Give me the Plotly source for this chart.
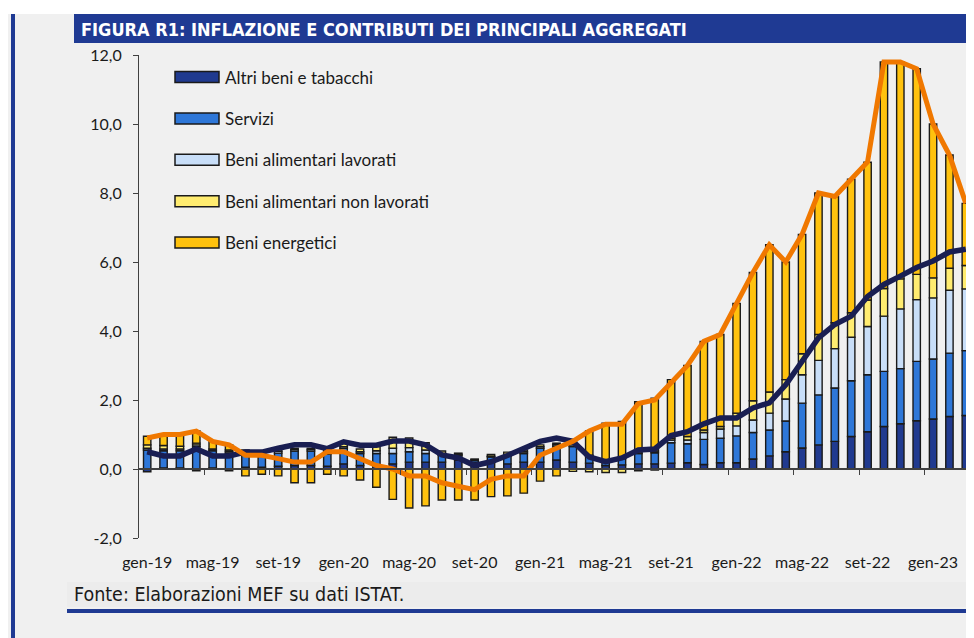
import plotly.graph_objects as go

# ---------------- data ----------------
months = ["gen-19","feb-19","mar-19","apr-19","mag-19","giu-19","lug-19","ago-19","set-19","ott-19","nov-19","dic-19",
          "gen-20","feb-20","mar-20","apr-20","mag-20","giu-20","lug-20","ago-20","set-20","ott-20","nov-20","dic-20",
          "gen-21","feb-21","mar-21","apr-21","mag-21","giu-21","lug-21","ago-21","set-21","ott-21","nov-21","dic-21",
          "gen-22","feb-22","mar-22","apr-22","mag-22","giu-22","lug-22","ago-22","set-22","ott-22","nov-22","dic-22",
          "gen-23","feb-23","mar-23"]

altri_beni = [-0.08, 0.03, 0.03, -0.05, 0.03, -0.05, 0.05, 0.05, 0.08, 0.10, 0.10, 0.08,
              0.15, 0.10, 0.10, 0.15, 0.20, 0.20, 0.20, 0.25, 0.20, 0.20, 0.15, 0.20,
              0.20, 0.26, 0.20, 0.17, 0.10, 0.12, 0.15, 0.15, 0.17, 0.18, 0.13, 0.18,
              0.18, 0.29, 0.38, 0.50, 0.61, 0.70, 0.80, 0.94, 1.08, 1.23, 1.31, 1.40,
              1.45, 1.52, 1.55]
servizi = [0.55, 0.50, 0.50, 0.65, 0.50, 0.45, 0.40, 0.38, 0.38, 0.42, 0.42, 0.35,
           0.45, 0.35, 0.35, 0.30, 0.30, 0.25, 0.20, 0.15, 0.05, 0.15, 0.22, 0.25,
           0.40, 0.40, 0.45, 0.20, 0.12, 0.18, 0.30, 0.32, 0.59, 0.55, 0.73, 0.71,
           0.78, 0.77, 0.75, 0.89, 1.30, 1.45, 1.55, 1.62, 1.65, 1.60, 1.60, 1.72,
           1.74, 1.84, 1.88]
alim_lavorati = [0.05, 0.05, 0.05, 0.05, 0.05, 0.05, 0.05, 0.05, 0.05, 0.05, 0.05, 0.05,
                 0.05, 0.05, 0.08, 0.15, 0.12, 0.10, 0.05, 0.03, 0.02, 0.02, 0.05, 0.05,
                 0.05, 0.05, 0.05, 0.03, 0.03, 0.03, 0.05, 0.05, 0.08, 0.11, 0.20, 0.27,
                 0.29, 0.36, 0.49, 0.64, 0.82, 1.00, 1.14, 1.26, 1.40, 1.60, 1.73, 1.79,
                 1.77, 1.82, 1.79]
alim_non_lavorati = [0.10, 0.10, 0.08, 0.05, 0.00, 0.05, 0.05, 0.05, 0.05, 0.03, 0.03, 0.10,
                     0.10, 0.08, 0.12, 0.32, 0.28, 0.21, 0.07, 0.03, 0.02, 0.05, 0.07, 0.05,
                     0.05, 0.04, -0.07, -0.08, -0.10, -0.10, -0.05, -0.03, 0.05, 0.10, 0.07, 0.07,
                     0.37, 0.56, 0.61, 0.56, 0.61, 0.75, 0.75, 0.71, 0.77, 0.80, 0.87, 0.73,
                     0.58, 0.64, 0.68]
energetici = [0.25, 0.30, 0.35, 0.35, 0.22, 0.15, -0.20, -0.15, -0.20, -0.40, -0.40, -0.15,
              -0.20, -0.32, -0.53, -0.88, -1.13, -1.07, -0.90, -0.90, -0.90, -0.80, -0.78, -0.70,
              -0.35, -0.20, 0.14, 0.70, 1.08, 1.05, 1.45, 1.53, 1.70, 2.06, 2.57, 2.67,
              3.18, 3.72, 4.27, 3.41, 3.46, 4.10, 3.66, 3.87, 3.99, 6.57, 6.29, 5.96,
              4.46, 3.28, 1.80]

inflazione = [0.9, 1.0, 1.0, 1.1, 0.8, 0.7, 0.4, 0.4, 0.3, 0.2, 0.2, 0.5,
              0.5, 0.3, 0.1, 0.0, -0.2, -0.2, -0.4, -0.5, -0.6, -0.3, -0.2, -0.2,
              0.4, 0.6, 0.8, 1.1, 1.3, 1.3, 1.9, 2.0, 2.5, 3.0, 3.7, 3.9,
              4.8, 5.7, 6.5, 6.0, 6.8, 8.0, 7.9, 8.4, 8.9, 11.8, 11.8, 11.6,
              10.0, 9.1, 7.7]
inflazione_fondo = [0.50, 0.38, 0.38, 0.58, 0.38, 0.38, 0.49, 0.49, 0.60, 0.70, 0.70, 0.59,
                    0.79, 0.69, 0.69, 0.81, 0.81, 0.70, 0.41, 0.32, 0.10, 0.21, 0.39, 0.58,
                    0.80, 0.90, 0.80, 0.35, 0.21, 0.32, 0.55, 0.58, 0.97, 1.08, 1.31, 1.48,
                    1.48, 1.77, 1.92, 2.44, 3.12, 3.80, 4.19, 4.43, 5.00, 5.35, 5.59, 5.84,
                    6.03, 6.29, 6.37]

series_names = ["Altri beni e tabacchi", "Servizi", "Beni alimentari lavorati",
                "Beni alimentari non lavorati", "Beni energetici"]
series_values = [altri_beni, servizi, alim_lavorati, alim_non_lavorati, energetici]
series_colors = ["#203a8f", "#2e77d8", "#c8def8", "#ffec70", "#ffc20e"]

y_ticks = [-2, 0, 2, 4, 6, 8, 10, 12]
y_ticktext = ["-2,0", "0,0", "2,0", "4,0", "6,0", "8,0", "10,0", "12,0"]
label_step = 4

title_text = "FIGURA R1: INFLAZIONE E CONTRIBUTI DEI PRINCIPALI AGGREGATI"
source_text = "Fonte: Elaborazioni MEF su dati ISTAT."

# ---------------- layout geometry ----------------
OFF = 8                      # page body margin offset
W, H = 974 - OFF, 638 - OFF  # figure size
L, R, T, B = 139 - OFF, 0, 55 - OFF, 100
Y_MIN, Y_MAX = -2, 12
BLUE = "#1f3a93"
BG = "#f0f0f0"
AXIS = "#404040"
NARROW = "DejaVu Sans Condensed, Liberation Sans Narrow, Arial Narrow, sans-serif"
TEXT = "#1a1a1a"

def px(x):
    """screen x (px) -> paper fraction"""
    return (x - OFF - L) / (W - L - R)

def py(y):
    """screen y (px) -> paper fraction"""
    return (H - B - (y - OFF)) / (H - T - B)

idx = list(range(len(months)))

fig = go.Figure()
for name, vals, col in zip(series_names, series_values, series_colors):
    fig.add_trace(go.Bar(x=idx, y=vals, name=name, marker=dict(color=col, line=dict(color=TEXT, width=1.4)),
                         showlegend=False, xaxis="x", yaxis="y"))

fig.add_trace(go.Scatter(x=idx, y=inflazione_fondo, mode="lines", line=dict(color="#191e52", width=5.5),
                         showlegend=False, xaxis="x2", yaxis="y"))
fig.add_trace(go.Scatter(x=idx, y=inflazione, mode="lines", line=dict(color="#f07800", width=5),
                         showlegend=False, xaxis="x2", yaxis="y"))

xr = [-0.5, len(months) - 0.5]
fig.update_layout(
    width=W, height=H,
    margin=dict(l=L, r=R, t=T, b=B, pad=0),
    paper_bgcolor=BG, plot_bgcolor=BG,
    barmode="relative", bargap=0.55,
    separators=",.",
    font=dict(family="Lato", size=16, color=TEXT),
    xaxis=dict(range=xr, tickmode="array", tickvals=idx[::label_step], ticktext=months[::label_step],
               ticks="", showline=False, showgrid=False, zeroline=False, ticklabelstandoff=13,
               tickfont=dict(family="Lato", size=16, color=TEXT)),
    xaxis2=dict(range=xr, overlaying="x", anchor="free", position=(0 - Y_MIN) / (Y_MAX - Y_MIN),
                side="bottom", showline=True, linecolor=AXIS, linewidth=1.5,
                tickmode="array", tickvals=[i - 0.5 for i in idx[label_step::label_step]],
                ticks="outside", ticklen=5, tickcolor=AXIS, tickwidth=1,
                showticklabels=False, showgrid=False, zeroline=False),
    yaxis=dict(range=[Y_MIN, Y_MAX], tickmode="array", tickvals=y_ticks, ticktext=y_ticktext,
               showline=True, linecolor=AXIS, linewidth=1.2, ticks="outside", ticklen=5, tickcolor=AXIS,
               showgrid=False, zeroline=False, ticklabelstandoff=8,
               tickfont=dict(family="Lato", size=16, color=TEXT)),
)

shapes = []
annotations = []
# white top strip
shapes.append(dict(type="rect", xref="paper", yref="paper", x0=px(0), x1=px(980), y0=py(14), y1=py(0),
                   fillcolor="white", line=dict(width=0), layer="above"))
# left blue rule
shapes.append(dict(type="rect", xref="paper", yref="paper", x0=px(11), x1=px(15), y0=py(645), y1=py(14),
                   fillcolor=BLUE, line=dict(width=0), layer="above"))
# title band
shapes.append(dict(type="rect", xref="paper", yref="paper", x0=px(74), x1=px(980), y0=py(43), y1=py(14),
                   fillcolor=BLUE, line=dict(width=0), layer="above"))
# source band
shapes.append(dict(type="rect", xref="paper", yref="paper", x0=px(67), x1=px(980), y0=py(607), y1=py(582),
                   fillcolor="#ececec", line=dict(width=0), layer="above"))
# bottom blue rule
shapes.append(dict(type="rect", xref="paper", yref="paper", x0=px(67), x1=px(980), y0=py(613), y1=py(609),
                   fillcolor=BLUE, line=dict(width=0), layer="above"))

annotations.append(dict(xref="paper", yref="paper", x=px(79), y=py(29), xanchor="left", yanchor="middle",
                        text="<b>" + title_text + "</b>", showarrow=False,
                        font=dict(family=NARROW, size=18, color="white")))
annotations.append(dict(xref="paper", yref="paper", x=px(72), y=py(594), xanchor="left", yanchor="middle",
                        text=source_text, showarrow=False,
                        font=dict(family=NARROW, size=19.5, color=TEXT)))

# legend (drawn manually to match wide swatches)
leg_y0 = 77
leg_dy = 41.4
for k, (name, col) in enumerate(zip(series_names, series_colors)):
    cy = leg_y0 + k * leg_dy
    shapes.append(dict(type="rect", xref="paper", yref="paper", x0=px(175), x1=px(219),
                       y0=py(cy + 5.5), y1=py(cy - 5.5), fillcolor=col,
                       line=dict(color=TEXT, width=1.5), layer="above"))
    annotations.append(dict(xref="paper", yref="paper", x=px(223), y=py(cy), xanchor="left", yanchor="middle",
                            text=name, showarrow=False, font=dict(family="Lato", size=17, color=TEXT)))

fig.update_layout(shapes=shapes, annotations=annotations)
fig.write_html("out.html")
